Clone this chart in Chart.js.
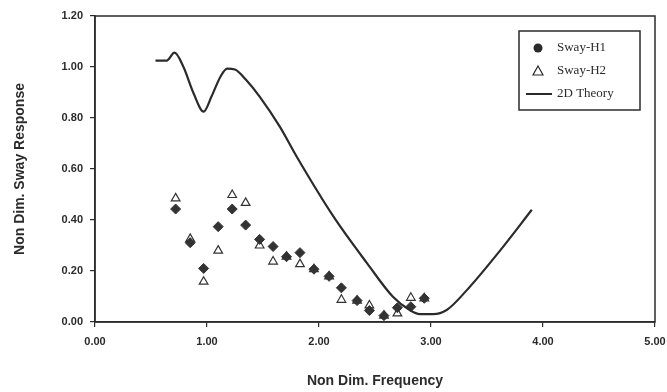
<!DOCTYPE html>
<html>
<head>
<meta charset="utf-8">
<script src="https://cdn.jsdelivr.net/npm/chart.js@4/dist/chart.umd.min.js"></script>
<style>
  html, body { margin: 0; padding: 0; background: #fff; }
  #wrap { width: 667px; height: 392px; }
</style>
</head>
<body>
<div id="wrap"><canvas id="c" width="667" height="392"></canvas></div>
<script>
"use strict";

// Respuesta en deriva adimensional frente a la frecuencia adimensional.
const theoryFreq = [0.54, 0.64, 0.71, 0.79, 0.88, 0.97, 1.04, 1.12, 1.18, 1.25, 1.35,
  1.47, 1.65, 1.80, 2.13, 2.43, 2.66, 2.81, 2.90, 3.02, 3.14, 3.32, 3.62, 3.90];
const theoryResp = [1.025, 1.025, 1.056, 1.00, 0.897, 0.825, 0.884, 0.962, 0.994, 0.99, 0.949,
  0.884, 0.766, 0.649, 0.413, 0.23, 0.099, 0.047, 0.031, 0.031, 0.047, 0.125, 0.282, 0.44];

const measFreq = [0.72, 0.85, 0.97, 1.10, 1.225, 1.345, 1.47, 1.59, 1.71, 1.83,
  1.955, 2.09, 2.20, 2.34, 2.45, 2.58, 2.70, 2.82, 2.94];
const swayH1 = [0.443, 0.311, 0.21, 0.374, 0.443, 0.38, 0.324, 0.296, 0.256, 0.272,
  0.207, 0.179, 0.134, 0.084, 0.045, 0.025, 0.056, 0.06, 0.093];
const swayH2 = [0.485, 0.326, 0.158, 0.28, 0.498, 0.467, 0.30, 0.237, 0.256, 0.227,
  0.207, 0.179, 0.087, 0.084, 0.065, 0.025, 0.034, 0.095, 0.093];

const xTicks = [0, 1, 2, 3, 4, 5];
const yTicks = [0, 0.2, 0.4, 0.6, 0.8, 1.0, 1.2];

const INK = "#2b2b2b";
const pts = (xs, ys) => xs.map((x, i) => ({ x, y: ys[i] }));

// Marco completo del área de trazado (arriba y derecha incluidos).
const frame = {
  id: "frame",
  afterDatasetsDraw(chart) {
    const { ctx, chartArea: a } = chart;
    ctx.save();
    ctx.strokeStyle = INK;
    ctx.lineWidth = 1.5;
    ctx.strokeRect(a.left, a.top, a.right - a.left, a.bottom - a.top);
    ctx.restore();
  },
};

// Leyenda en recuadro dentro del gráfico, esquina superior derecha.
const boxLegend = {
  id: "boxLegend",
  afterDraw(chart) {
    const { ctx, chartArea: a } = chart;
    const x = a.right - 136, y = a.top + 15, w = 121, h = 79;
    ctx.save();
    ctx.fillStyle = "#fff";
    ctx.fillRect(x, y, w, h);
    ctx.strokeStyle = INK;
    ctx.lineWidth = 1.5;
    ctx.strokeRect(x, y, w, h);
    ctx.font = "13px 'Liberation Serif', serif";
    ctx.textBaseline = "middle";
    ctx.fillStyle = INK;
    const items = chart.data.datasets.map((d) => d.label);
    const rows = [y + 17, y + 40, y + 63];
    const mx = x + 19, tx = x + 38;
    // H1: punto relleno
    ctx.beginPath();
    ctx.arc(mx, rows[0], 4.5, 0, Math.PI * 2);
    ctx.fill();
    // H2: triángulo hueco
    ctx.lineWidth = 1.2;
    ctx.beginPath();
    ctx.moveTo(mx, rows[1] - 5);
    ctx.lineTo(mx + 5, rows[1] + 4);
    ctx.lineTo(mx - 5, rows[1] + 4);
    ctx.closePath();
    ctx.stroke();
    // teoría: trazo
    ctx.lineWidth = 2;
    ctx.beginPath();
    ctx.moveTo(x + 7, rows[2]);
    ctx.lineTo(x + 33, rows[2]);
    ctx.stroke();
    items.forEach((t, i) => ctx.fillText(t, tx, rows[i]));
    ctx.restore();
  },
};

const tickFont = { family: "'Liberation Sans', Arial, sans-serif", size: 11, weight: "bold" };
const titleFont = { family: "'Liberation Sans', Arial, sans-serif", size: 14, weight: "bold" };

new Chart(document.getElementById("c"), {
  type: "scatter",
  data: {
    datasets: [
      {
        label: "Sway-H1",
        data: pts(measFreq, swayH1),
        pointStyle: "rectRot",
        pointRadius: 5,
        backgroundColor: "#333",
        borderColor: "#333",
        borderWidth: 1,
        order: 2,
      },
      {
        label: "Sway-H2",
        data: pts(measFreq, swayH2),
        pointStyle: "triangle",
        pointRadius: 5,
        backgroundColor: "rgba(0,0,0,0)",
        borderColor: "#333",
        borderWidth: 1.2,
        order: 1,
      },
      {
        label: "2D Theory",
        data: pts(theoryFreq, theoryResp),
        showLine: true,
        pointRadius: 0,
        borderColor: INK,
        borderWidth: 2.2,
        cubicInterpolationMode: "monotone",
        order: 0,
      },
    ],
  },
  options: {
    responsive: false,
    animation: false,
    events: [],
    layout: { padding: { top: 16, right: 12, bottom: 0, left: 0 } },
    plugins: { legend: { display: false }, tooltip: { enabled: false } },
    scales: {
      x: {
        type: "linear",
        min: 0,
        max: 5,
        afterBuildTicks: (s) => { s.ticks = xTicks.map((v) => ({ value: v })); },
        afterFit: (s) => { s.height = 70; s.paddingRight = 0; s.paddingLeft = 0; },
        grid: { drawOnChartArea: false, drawTicks: true, tickLength: 5, color: INK, lineWidth: 1.2 },
        border: { color: INK, width: 1.5 },
        ticks: { color: INK, font: tickFont, padding: 8, maxRotation: 0, callback: (v) => v.toFixed(2) },
        title: { display: true, text: "Non Dim. Frequency", color: INK, font: titleFont, padding: { top: 0, bottom: 2 } },
      },
      y: {
        min: 0,
        max: 1.2,
        afterBuildTicks: (s) => { s.ticks = yTicks.map((v) => ({ value: v })); },
        afterFit: (s) => { s.width = 95; s.paddingTop = 0; s.paddingBottom = 0; },
        grid: { drawOnChartArea: false, drawTicks: true, tickLength: 5, color: INK, lineWidth: 1.2 },
        border: { color: INK, width: 1.5 },
        ticks: { color: INK, font: tickFont, padding: 7, callback: (v) => v.toFixed(2) },
        title: { display: true, text: "Non Dim. Sway Response", color: INK, font: titleFont, padding: { top: 12, bottom: 0 } },
      },
    },
  },
  plugins: [frame, boxLegend],
});
</script>
</body>
</html>
